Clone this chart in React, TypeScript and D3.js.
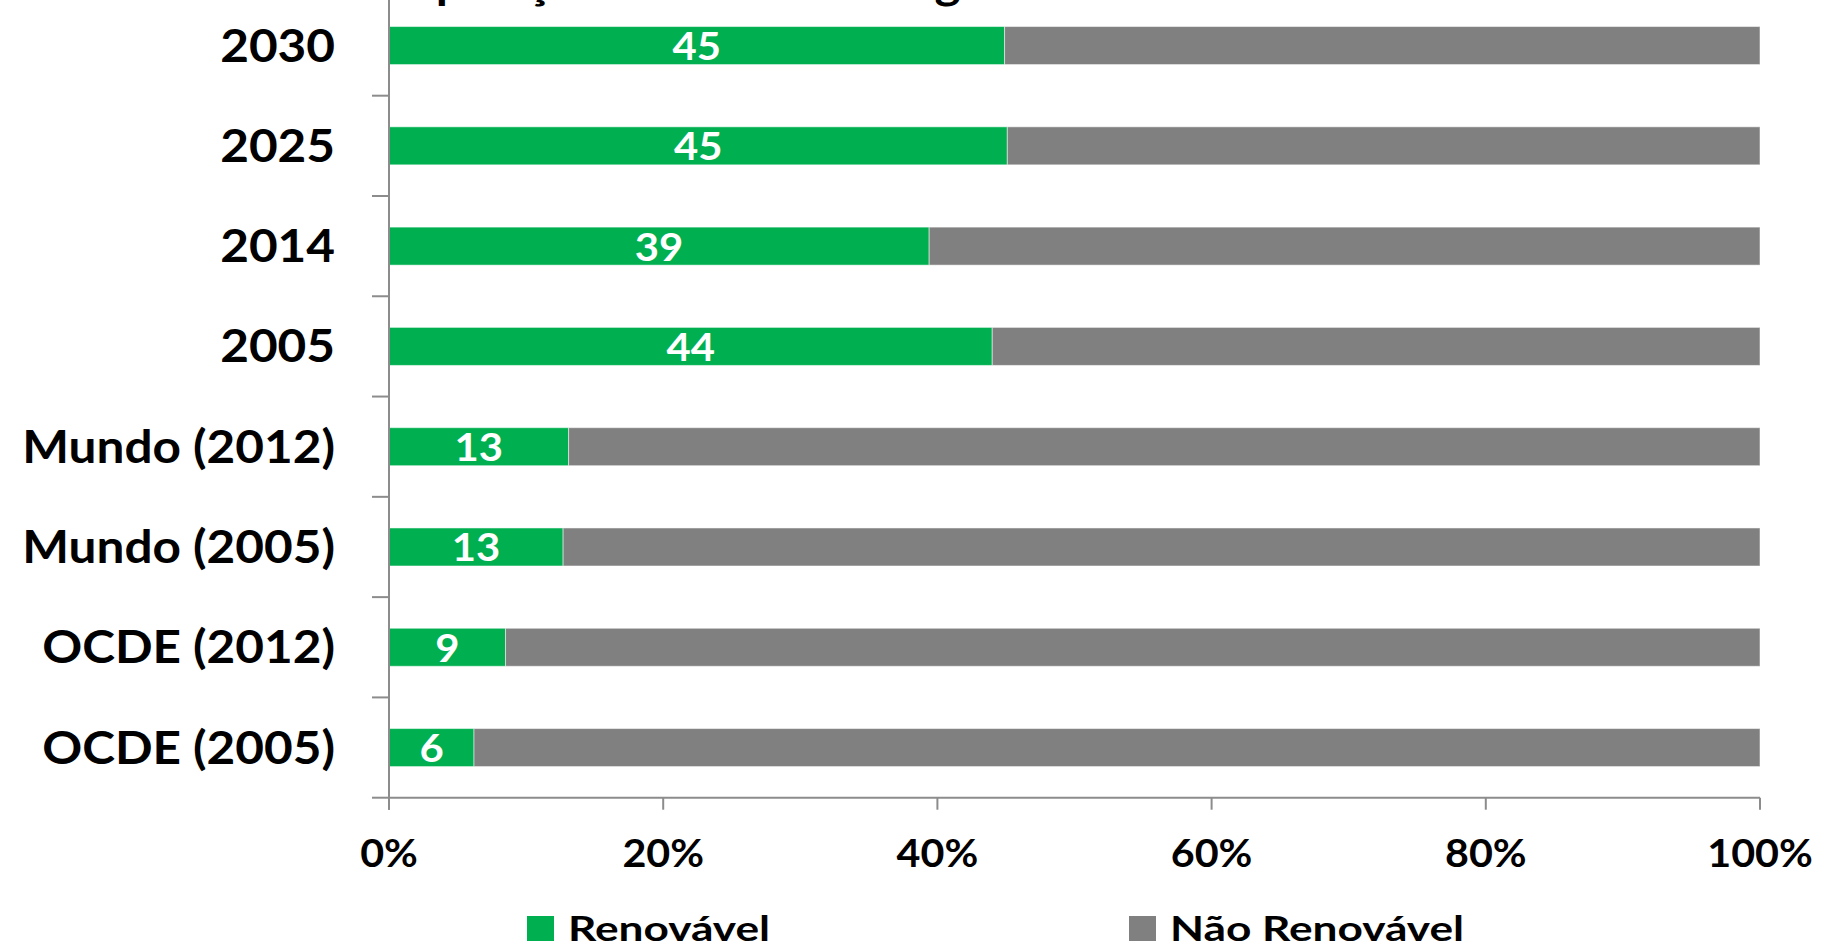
import React from "react";
import * as d3 from "d3";

const categories = ["2030", "2025", "2014", "2005", "Mundo (2012)", "Mundo (2005)", "OCDE (2012)", "OCDE (2005)"];
const renovavel = [44.9, 45.1, 39.4, 44.0, 13.1, 12.7, 8.5, 6.2];
const renovavelLabels = ["45", "45", "39", "44", "13", "13", "9", "6"];
const naoRenovavel = renovavel.map((v) => 100 - v);
const xTicks = [0, 20, 40, 60, 80, 100];
const seriesNames = ["Renovável", "Não Renovável"];
const titleText = "Composição da Matriz Energética";

const GREEN = "#00B050";
const GRAY = "#808080";
const AXIS = "#8c8c8c";
const FONT = "Lato, 'Open Sans', sans-serif";

const W = 1822;
const H = 945;

export default function App() {
  const x = d3.scaleLinear().domain([0, 100]).range([389, 1760]);
  const y = d3.scaleBand<string>().domain(categories).range([-4.6, 797.7]).paddingInner(0.621).paddingOuter(0.3105);
  const step = y.step();
  const bw = y.bandwidth();
  const y0 = 797.7;

  const SX = 1.1;
  const catSX = 1.1;
  const catSize = 45;
  const tickSize = 37.5;
  const lblSize = 38;
  const legSize = 34;
  const legSX = 1.3;

  return (
    <svg width={W} height={H} style={{ position: "absolute", left: 0, top: 0, background: "#fff" }}>
      {/* title (mostly cropped at top) */}
      <g transform={`translate(334,-1) scale(${SX + 0.02},1)`}>
        <text fontFamily={FONT} fontWeight={700} fontSize={44} fill="#000">{titleText}</text>
      </g>

      {/* bars */}
      {categories.map((c, i) => {
        const top = y(c)!;
        return (
          <g key={c}>
            <rect x={x(0)} y={top} width={x(renovavel[i]) - x(0)} height={bw} fill={GREEN} stroke="rgba(255,255,255,0.5)" strokeWidth={1} />
            <rect x={x(renovavel[i])} y={top} width={x(renovavel[i] + naoRenovavel[i]) - x(renovavel[i])} height={bw} fill={GRAY} stroke="rgba(255,255,255,0.5)" strokeWidth={1} />
            <g transform={`translate(${(x(0) + x(renovavel[i])) / 2},${top + bw / 2 + 14.5}) scale(${SX},1)`}>
              <text textAnchor="middle" fontFamily={FONT} fontWeight={700} fontSize={lblSize} fill="#fff">{renovavelLabels[i]}</text>
            </g>
          </g>
        );
      })}

      {/* y axis */}
      <line x1={x(0)} x2={x(0)} y1={-5} y2={y0 + 12} stroke={AXIS} strokeWidth={2} />
      {categories.map((c, i) => (
        <line key={"yt" + i} x1={x(0) - 17} x2={x(0)} y1={y(c)! - (step - bw) / 2} y2={y(c)! - (step - bw) / 2} stroke={AXIS} strokeWidth={2} />
      ))}
      <line x1={x(0) - 17} x2={x(0)} y1={y0} y2={y0} stroke={AXIS} strokeWidth={2} />
      {categories.map((c) => (
        <g key={"yl" + c} transform={`translate(335,${y(c)! + bw / 2 + 16}) scale(${catSX},1)`}>
          <text textAnchor="end" fontFamily={FONT} fontWeight={700} fontSize={catSize} fill="#000">{c}</text>
        </g>
      ))}

      {/* x axis */}
      <line x1={x(0)} x2={x(100)} y1={y0} y2={y0} stroke={AXIS} strokeWidth={2} />
      {xTicks.map((t) => (
        <g key={"xt" + t}>
          <line x1={x(t)} x2={x(t)} y1={y0} y2={y0 + 12} stroke={AXIS} strokeWidth={2} />
          <g transform={`translate(${x(t)},866.7) scale(${SX},1)`}>
            <text textAnchor="middle" fontFamily={FONT} fontWeight={700} fontSize={tickSize} fill="#000">{t + "%"}</text>
          </g>
        </g>
      ))}

      {/* legend */}
      {seriesNames.map((s, i) => {
        const lx = i === 0 ? 527 : 1129;
        return (
          <g key={"lg" + s}>
            <rect x={lx} y={916} width={27} height={25} fill={i === 0 ? GREEN : GRAY} />
            <g transform={`translate(${lx + 41},940.7) scale(${legSX},1)`}>
              <text fontFamily={FONT} fontWeight={700} fontSize={legSize} fill="#000">{s}</text>
            </g>
          </g>
        );
      })}
    </svg>
  );
}
